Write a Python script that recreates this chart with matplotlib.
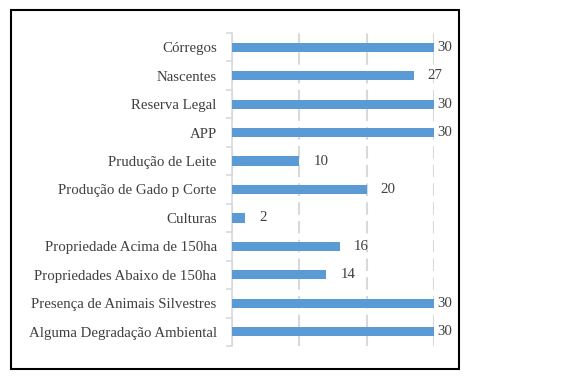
import matplotlib
matplotlib.use("Agg")
import matplotlib.pyplot as plt
from matplotlib.patches import Rectangle

categories = ["Córregos", "Nascentes", "Reserva Legal", "APP", "Prudução de Leite",
              "Produção de Gado p Corte", "Culturas", "Propriedade Acima de 150ha",
              "Propriedades Abaixo de 150ha", "Presença de Animais Silvestres",
              "Alguma Degradação Ambiental"]
values = [30, 27, 30, 30, 10, 20, 2, 16, 14, 30, 30]

W, H = 588, 377
fig = plt.figure(figsize=(W/100, H/100), dpi=100)
ax = fig.add_axes([232/W, 1-346/H, (434-232)/W, (346-33)/H])

n = len(categories)
ypos = list(range(n))
ax.barh(ypos, values, height=0.32, color="#5B9BD5", zorder=3)
ax.set_ylim(n-0.5, -0.5)
ax.set_xlim(0, 30)
ax.set_xticks([0, 10, 20, 30])
ax.set_xticklabels([])
ax.tick_params(axis="x", length=0)
ax.xaxis.grid(True, color="#D9D9D9", linestyle=(0, (6, 3)), linewidth=1.5, zorder=0)
for s in ["top", "right", "bottom"]:
    ax.spines[s].set_visible(False)
ax.spines["left"].set_color("#D9D9D9")
ax.spines["left"].set_linewidth(1.2)

fs = 10.75
ax.set_yticks(ypos)
ax.set_yticklabels(categories, fontfamily="Liberation Serif", fontsize=fs, color="#404040")
ax.set_yticks([i - 0.5 for i in range(n+1)], minor=True)
ax.tick_params(axis="y", which="major", length=0, pad=11)
ax.tick_params(axis="y", which="minor", length=4, color="#D9D9D9", width=1.2)

vmax = max(values)
for y, v in zip(ypos, values):
    off = 3 if v == vmax else 14
    ax.annotate(str(v), (v, y), xytext=(off, 0), textcoords="offset pixels",
                va="center", ha="left", fontfamily="Liberation Serif",
                fontsize=fs, color="#404040", annotation_clip=False)

fig.add_artist(Rectangle((11/W, 1-369/H), (459-11)/W, (369-10)/H,
                         transform=fig.transFigure, fill=False,
                         edgecolor="black", linewidth=1.5))

fig.savefig("out.png", dpi=100)
